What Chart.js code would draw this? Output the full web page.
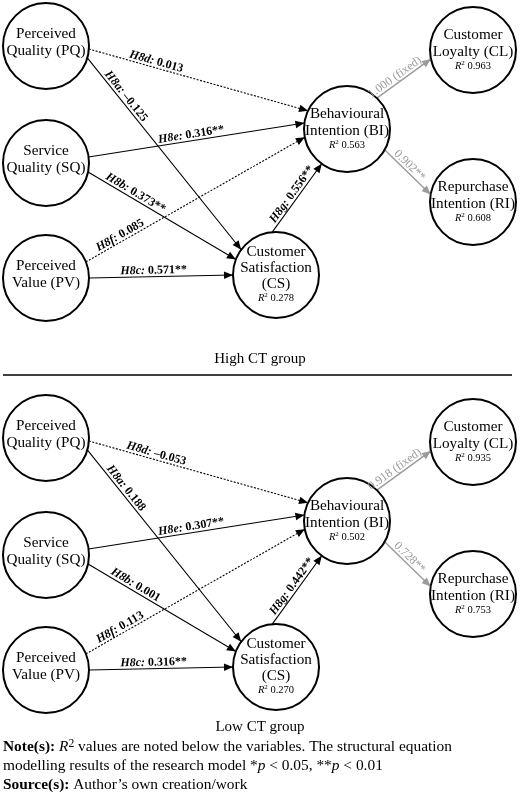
<!DOCTYPE html>
<html>
<head>
<meta charset="utf-8">
<script src="https://cdn.jsdelivr.net/npm/chart.js@4/dist/chart.umd.min.js"></script>
<style>
  html, body { margin: 0; padding: 0; background: #fff; }
  #wrap { width: 520px; height: 794px; }
</style>
</head>
<body>
<div id="wrap"><canvas id="c" width="520" height="794"></canvas></div>
<script>
// ---------- DATA ----------
const nodeIds = ['PQ', 'SQ', 'PV', 'CS', 'BI', 'CL', 'RI'];
const nodeLines = [
  ['Perceived', 'Quality (PQ)'],
  ['Service', 'Quality (SQ)'],
  ['Perceived', 'Value (PV)'],
  ['Customer', 'Satisfaction', '(CS)'],
  ['Behavioural', 'Intention (BI)'],
  ['Customer', 'Loyalty (CL)'],
  ['Repurchase', 'Intention (RI)']
];
const r2High = [null, null, null, '0.278', '0.563', '0.963', '0.608'];
const r2Low  = [null, null, null, '0.270', '0.502', '0.935', '0.753'];

const pathFrom = ['PQ', 'PQ', 'SQ', 'SQ', 'PV', 'PV', 'CS', 'BI', 'BI'];
const pathTo   = ['BI', 'CS', 'BI', 'CS', 'BI', 'CS', 'BI', 'CL', 'RI'];
const pathHyp  = ['H8d', 'H8a', 'H8e', 'H8b', 'H8f', 'H8c', 'H8g', '', ''];
const coefHigh = ['0.013', '\u20130.125', '0.316**', '0.373**', '0.085', '0.571**', '0.556**', '1.000 (fixed)', '0.902**'];
const coefLow  = ['\u20130.053', '0.188', '0.307**', '0.001', '0.113', '0.316**', '0.442**', '0.918 (fixed)', '0.728**'];

const groupTitles = ['High CT group', 'Low CT group'];
const r2Sets = [r2High, r2Low];
const coefSets = [coefHigh, coefLow];

// ---------- LAYOUT / STYLE (not data) ----------
const LAYOUT = {
  r: 43,
  groupOffset: [0, 392],
  nodeXY: { PQ: [46, 46], SQ: [46, 163], PV: [46, 278], CS: [276, 275], BI: [347, 129], CL: [473, 50], RI: [473, 202] },
  srcAng: [4, 16, -8, 12, -22, 0, 265, -46, 29],
  tgtAng: [205, 216, 188, 201, 169, 180, 126, 168, 190],
  labelT: [0.30, 0.22, 0.48, 0.30, 0.17, 0.45, 0.50, 0.40, 0.45],
  dashed: [true, false, false, false, true, false, false, false, false],
  grey:   [false, false, false, false, false, false, false, true, true],
  titleY: [359, 727],
  ruleY: 375,
  noteY: [747, 766, 785]
};
const SERIF = '"Liberation Serif", "Times New Roman", "DejaVu Serif", serif';
const GREY = '#9a9a9a';

// ---------- BUILD DATASETS ----------
function rad(d) { return d * Math.PI / 180; }
function anchor(id, ang, off) {
  const c = LAYOUT.nodeXY[id];
  return { x: c[0] + LAYOUT.r * Math.cos(rad(ang)), y: c[1] + off + LAYOUT.r * Math.sin(rad(ang)) };
}
const datasets = [];
[0, 1].forEach(g => {
  const off = LAYOUT.groupOffset[g];
  datasets.push({
    kind: 'nodes', group: g, order: 0,
    data: nodeIds.map(id => ({ x: LAYOUT.nodeXY[id][0], y: LAYOUT.nodeXY[id][1] + off })),
    showLine: false,
    pointRadius: LAYOUT.r,
    pointHoverRadius: LAYOUT.r,
    pointBackgroundColor: '#ffffff',
    pointBorderColor: '#000000',
    pointBorderWidth: 2,
    clip: false
  });
  pathFrom.forEach((f, i) => {
    datasets.push({
      kind: 'edge', group: g, idx: i, order: 1,
      data: [anchor(f, LAYOUT.srcAng[i], off), anchor(pathTo[i], LAYOUT.tgtAng[i], off)],
      showLine: true,
      borderColor: LAYOUT.grey[i] ? GREY : '#000000',
      borderWidth: LAYOUT.grey[i] ? 1.4 : 1.1,
      borderDash: LAYOUT.dashed[i] ? [2, 1.5] : [],
      pointRadius: 0,
      pointHoverRadius: 0,
      clip: false
    });
  });
});

// ---------- TEXT HELPERS ----------
function runsWidth(ctx, runs) {
  let w = 0;
  runs.forEach(r => { ctx.font = r.font; w += ctx.measureText(r.t).width; });
  return w;
}
function drawRuns(ctx, runs, x, y, align) {
  const w = runsWidth(ctx, runs);
  let cx = align === 'center' ? x - w / 2 : x;
  runs.forEach(r => {
    ctx.font = r.font;
    ctx.fillStyle = r.color || '#000';
    ctx.textAlign = 'left';
    ctx.fillText(r.t, cx, y + (r.dy || 0));
    cx += ctx.measureText(r.t).width;
  });
}

const diagramPlugin = {
  id: 'diagram',
  afterDatasetsDraw(chart) {
    const ctx = chart.ctx;
    const xs = chart.scales.x, ys = chart.scales.y;
    ctx.save();
    ctx.textBaseline = 'middle';
    chart.data.datasets.forEach((ds, di) => {
      const meta = chart.getDatasetMeta(di);
      if (ds.kind === 'edge') {
        const p0 = meta.data[0], p1 = meta.data[1];
        const ang = Math.atan2(p1.y - p0.y, p1.x - p0.x);
        const col = ds.borderColor;
        // arrowhead
        const L = 9, W = 3.8;
        ctx.save();
        ctx.translate(p1.x, p1.y);
        ctx.rotate(ang);
        ctx.beginPath();
        ctx.moveTo(0, 0);
        ctx.lineTo(-L, -W);
        ctx.lineTo(-L, W);
        ctx.closePath();
        ctx.fillStyle = col;
        ctx.fill();
        ctx.restore();
        // label
        const i = ds.idx;
        const t = LAYOUT.labelT[i];
        const lx = p0.x + (p1.x - p0.x) * t, ly = p0.y + (p1.y - p0.y) * t;
        const coef = coefSets[ds.group][i];
        let runs;
        if (pathHyp[i]) {
          runs = [
            { t: pathHyp[i] + ':', font: 'italic bold 12px ' + SERIF },
            { t: ' ' + coef, font: 'bold 12px ' + SERIF }
          ];
        } else {
          runs = [{ t: coef, font: '12px ' + SERIF, color: GREY }];
        }
        ctx.save();
        ctx.translate(lx, ly);
        ctx.rotate(ang);
        ctx.textBaseline = 'alphabetic';
        drawRuns(ctx, runs, 0, -3, 'center');
        ctx.restore();
      }
    });
    // node labels
    chart.data.datasets.forEach((ds, di) => {
      if (ds.kind !== 'nodes') return;
      const meta = chart.getDatasetMeta(di);
      const r2 = r2Sets[ds.group];
      meta.data.forEach((pt, k) => {
        const lines = nodeLines[k];
        const hasR2 = r2[k] !== null;
        const lh = lines.length > 2 ? 16 : 17;
        const total = lines.length * lh + (hasR2 ? 13 : 0);
        let y = pt.y - total / 2 + lh / 2 + (hasR2 ? 0 : -3);
        ctx.textBaseline = 'middle';
        lines.forEach(s => {
          drawRuns(ctx, [{ t: s, font: '15.2px ' + SERIF }], pt.x, y, 'center');
          y += lh;
        });
        if (hasR2) {
          y += -lh / 2 + 6;
          drawRuns(ctx, [
            { t: 'R', font: 'italic 10.5px ' + SERIF },
            { t: '2', font: '7px ' + SERIF, dy: -3 },
            { t: ' ' + r2[k], font: '10.5px ' + SERIF }
          ], pt.x, y, 'center');
        }
      });
    });
    // group titles
    ctx.textBaseline = 'middle';
    groupTitles.forEach((s, g) => {
      drawRuns(ctx, [{ t: s, font: '15px ' + SERIF }], xs.getPixelForValue(260), ys.getPixelForValue(LAYOUT.titleY[g]), 'center');
    });
    // separator rule
    ctx.beginPath();
    ctx.moveTo(xs.getPixelForValue(3), ys.getPixelForValue(LAYOUT.ruleY));
    ctx.lineTo(xs.getPixelForValue(512), ys.getPixelForValue(LAYOUT.ruleY));
    ctx.lineWidth = 1.3;
    ctx.strokeStyle = '#000';
    ctx.stroke();
    // notes
    const nx = xs.getPixelForValue(3);
    const F = 15.4;
    drawRuns(ctx, [
      { t: 'Note(s):', font: 'bold ' + F + 'px ' + SERIF },
      { t: ' ', font: F + 'px ' + SERIF },
      { t: 'R', font: 'italic ' + F + 'px ' + SERIF },
      { t: '2', font: (F * 0.75) + 'px ' + SERIF, dy: -3 },
      { t: ' values are noted below the variables. The structural equation', font: F + 'px ' + SERIF }
    ], nx, ys.getPixelForValue(LAYOUT.noteY[0]), 'left');
    drawRuns(ctx, [
      { t: 'modelling results of the research model *', font: F + 'px ' + SERIF },
      { t: 'p', font: 'italic ' + F + 'px ' + SERIF },
      { t: ' < 0.05, **', font: F + 'px ' + SERIF },
      { t: 'p', font: 'italic ' + F + 'px ' + SERIF },
      { t: ' < 0.01', font: F + 'px ' + SERIF }
    ], nx, ys.getPixelForValue(LAYOUT.noteY[1]), 'left');
    drawRuns(ctx, [
      { t: 'Source(s):', font: 'bold ' + F + 'px ' + SERIF },
      { t: ' Author\u2019s own creation/work', font: F + 'px ' + SERIF }
    ], nx, ys.getPixelForValue(LAYOUT.noteY[2]), 'left');
    ctx.restore();
  }
};

new Chart(document.getElementById('c'), {
  type: 'scatter',
  data: { datasets },
  options: {
    responsive: false,
    animation: false,
    events: [],
    layout: { padding: 0, autoPadding: false },
    scales: {
      x: { type: 'linear', min: 0, max: 520, display: false },
      y: { type: 'linear', min: 0, max: 794, reverse: true, display: false }
    },
    plugins: { legend: { display: false }, tooltip: { enabled: false } }
  },
  plugins: [diagramPlugin]
});
</script>
</body>
</html>
